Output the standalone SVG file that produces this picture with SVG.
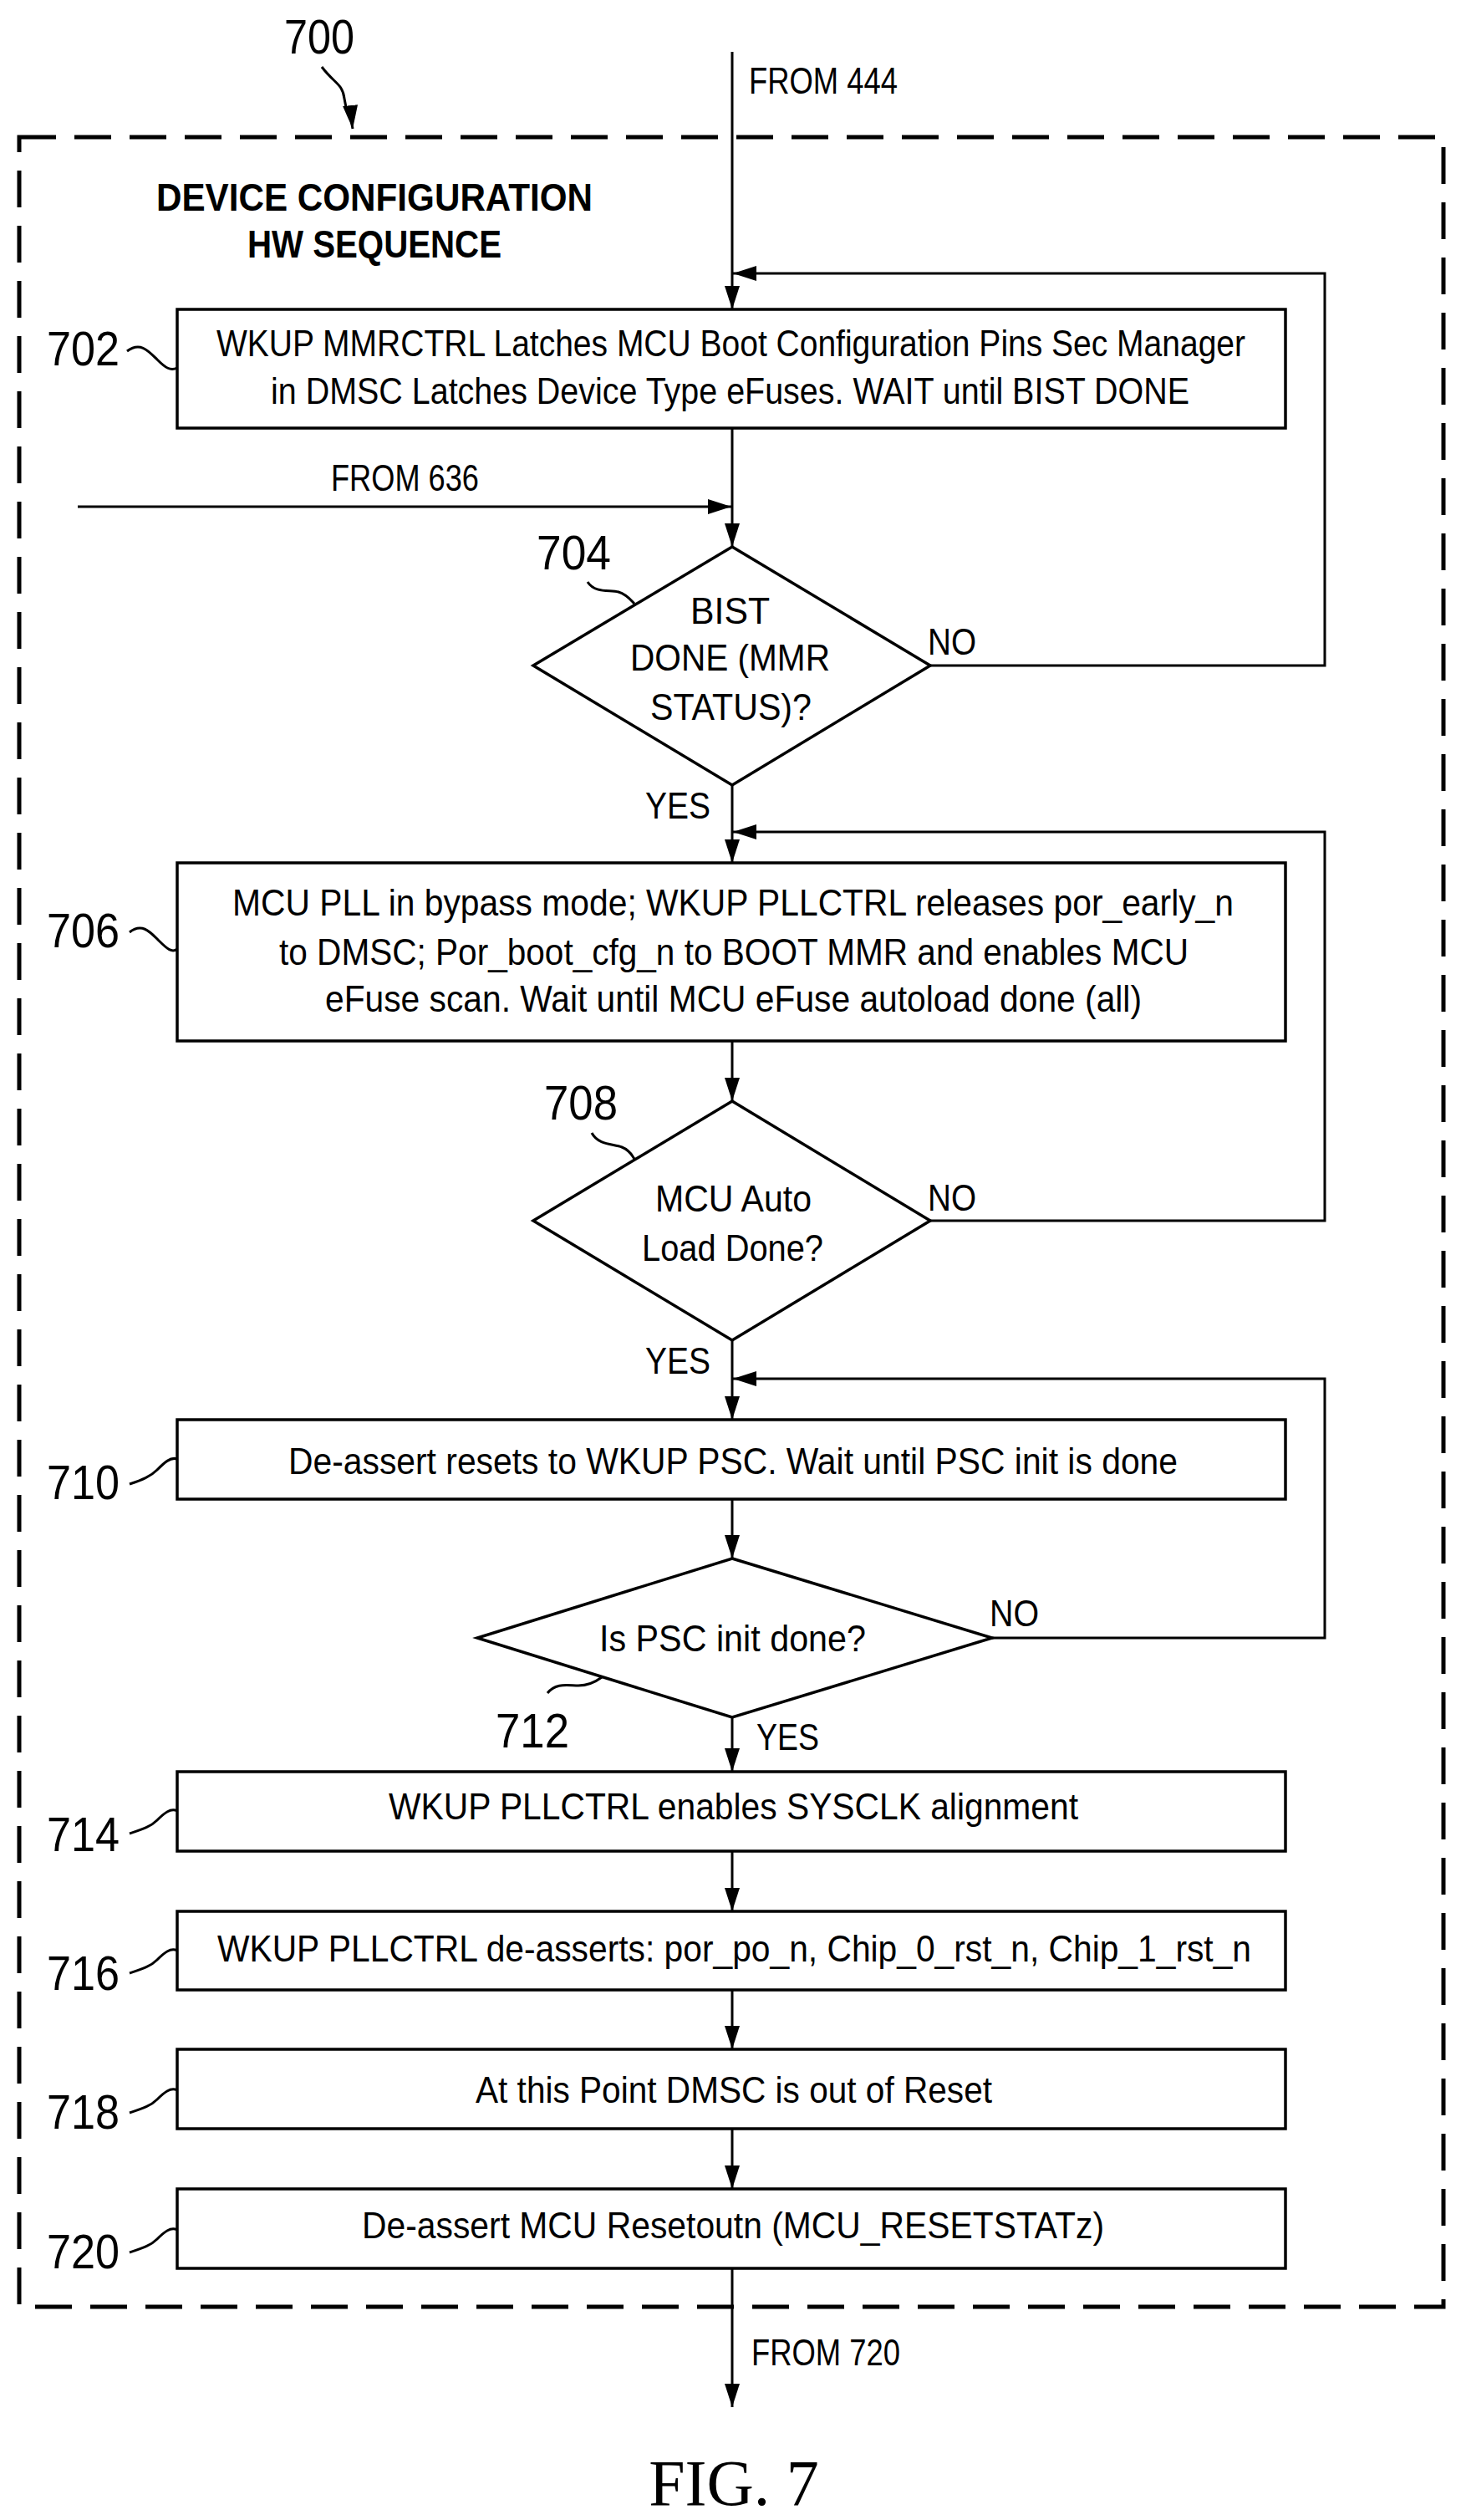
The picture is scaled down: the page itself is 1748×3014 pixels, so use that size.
<svg xmlns="http://www.w3.org/2000/svg" width="1748" height="3014" viewBox="0 0 1748 3014">
<style>
.ln{stroke:#000;stroke-width:3;fill:none}
.bx{stroke:#000;stroke-width:3.5;fill:#fff}
.t{font-family:"Liberation Sans",Arial,sans-serif;font-size:44px;fill:#000}
.c{text-anchor:middle}
.lb{font-family:"Liberation Sans",Arial,sans-serif;font-size:58px;fill:#000}
.b{font-weight:bold;font-size:46px}
</style>
<defs>
<marker id="ah" markerUnits="userSpaceOnUse" markerWidth="30" markerHeight="20" refX="28" refY="10" orient="auto">
<path d="M0,1 L28,10 L0,19 Z" fill="#000"/>
</marker>
</defs>
<rect x="23" y="164" width="1704" height="2595" fill="none" stroke="#000" stroke-width="5" stroke-dasharray="44,22"/>
<g id="title">
<text class="lb" x="340" y="64" textLength="84" lengthAdjust="spacingAndGlyphs">700</text>
<text class="t b" x="187" y="252" textLength="522" lengthAdjust="spacingAndGlyphs">DEVICE CONFIGURATION</text>
<text class="t b" x="296" y="308" textLength="304" lengthAdjust="spacingAndGlyphs">HW SEQUENCE</text>
<path class="ln" d="M385,80 C400,100 410,100 412,118 S420,135 422,154" marker-end="url(#ah)"/>
</g>
<g id="connectors">
<path class="ln" d="M876,62 V370" marker-end="url(#ah)"/>
<text class="t" x="896" y="112" textLength="178" lengthAdjust="spacingAndGlyphs">FROM 444</text>
<path class="ln" d="M1113,796 H1585 V327 H877" marker-end="url(#ah)"/>
<path class="ln" d="M876,512 V654" marker-end="url(#ah)"/>
<path class="ln" d="M93,606 H875" marker-end="url(#ah)"/>
<text class="t" x="396" y="587" textLength="177" lengthAdjust="spacingAndGlyphs">FROM 636</text>
<path class="ln" d="M876,939 V1032" marker-end="url(#ah)"/>
<path class="ln" d="M1113,1460 H1585 V995 H877" marker-end="url(#ah)"/>
<path class="ln" d="M876,1245 V1317" marker-end="url(#ah)"/>
<path class="ln" d="M876,1603 V1698" marker-end="url(#ah)"/>
<path class="ln" d="M1187,1959 H1585 V1649 H877" marker-end="url(#ah)"/>
<path class="ln" d="M876,1793 V1864" marker-end="url(#ah)"/>
<path class="ln" d="M876,2054 V2119" marker-end="url(#ah)"/>
<path class="ln" d="M876,2214 V2286" marker-end="url(#ah)"/>
<path class="ln" d="M876,2380 V2451" marker-end="url(#ah)"/>
<path class="ln" d="M876,2546 V2618" marker-end="url(#ah)"/>
<path class="ln" d="M876,2713 V2879" marker-end="url(#ah)"/>
<text class="t" x="899" y="2829" textLength="178" lengthAdjust="spacingAndGlyphs">FROM 720</text>
<text class="t" x="1110" y="783" textLength="58" lengthAdjust="spacingAndGlyphs">NO</text>
<text class="t" x="772" y="979" textLength="78" lengthAdjust="spacingAndGlyphs">YES</text>
<text class="t" x="1110" y="1448" textLength="58" lengthAdjust="spacingAndGlyphs">NO</text>
<text class="t" x="772" y="1643" textLength="78" lengthAdjust="spacingAndGlyphs">YES</text>
<text class="t" x="1184" y="1945" textLength="59" lengthAdjust="spacingAndGlyphs">NO</text>
<text class="t" x="905" y="2093" textLength="75" lengthAdjust="spacingAndGlyphs">YES</text>
</g>
<g id="n702">
<rect class="bx" x="212" y="370" width="1326" height="142"/>
<text class="t" x="259" y="426" textLength="1231" lengthAdjust="spacingAndGlyphs">WKUP MMRCTRL Latches MCU Boot Configuration Pins Sec Manager</text>
<text class="t" x="324" y="483" textLength="1099" lengthAdjust="spacingAndGlyphs">in DMSC Latches Device Type eFuses. WAIT until BIST DONE</text>
<text class="lb" x="56" y="437" textLength="87" lengthAdjust="spacingAndGlyphs">702</text>
<path class="ln" d="M152,420 C168,408 178,420 188,430 S204,444 212,440"/>
</g>
<g id="n704">
<path class="bx" d="M876,654 L1113,796 L876,939 L638,796 Z"/>
<text class="t" x="826" y="746" textLength="95" lengthAdjust="spacingAndGlyphs">BIST</text>
<text class="t" x="754" y="802" textLength="239" lengthAdjust="spacingAndGlyphs">DONE (MMR</text>
<text class="t" x="778" y="861" textLength="193" lengthAdjust="spacingAndGlyphs">STATUS)?</text>
<text class="lb" x="642" y="681" textLength="89" lengthAdjust="spacingAndGlyphs">704</text>
<path class="ln" d="M703,696 C712,710 730,705 740,708 S755,718 759,722"/>
</g>
<g id="n706">
<rect class="bx" x="212" y="1032" width="1326" height="213"/>
<text class="t" x="278" y="1095" textLength="1198" lengthAdjust="spacingAndGlyphs">MCU PLL in bypass mode; WKUP PLLCTRL releases por_early_n</text>
<text class="t" x="334" y="1154" textLength="1088" lengthAdjust="spacingAndGlyphs">to DMSC; Por_boot_cfg_n to BOOT MMR and enables MCU</text>
<text class="t" x="389" y="1210" textLength="977" lengthAdjust="spacingAndGlyphs">eFuse scan. Wait until MCU eFuse autoload done (all)</text>
<text class="lb" x="56" y="1133" textLength="87" lengthAdjust="spacingAndGlyphs">706</text>
<path class="ln" d="M155,1115 C170,1103 180,1115 190,1125 S206,1140 212,1135"/>
</g>
<g id="n708">
<path class="bx" d="M876,1317 L1113,1460 L876,1603 L638,1460 Z"/>
<text class="t" x="784" y="1449" textLength="187" lengthAdjust="spacingAndGlyphs">MCU Auto</text>
<text class="t" x="768" y="1508" textLength="217" lengthAdjust="spacingAndGlyphs">Load Done?</text>
<text class="lb" x="651" y="1339" textLength="88" lengthAdjust="spacingAndGlyphs">708</text>
<path class="ln" d="M708,1355 C716,1370 734,1368 744,1372 S756,1382 759,1386"/>
</g>
<g id="n710">
<rect class="bx" x="212" y="1698" width="1326" height="95"/>
<text class="t" x="345" y="1763" textLength="1064" lengthAdjust="spacingAndGlyphs">De-assert resets to WKUP PSC. Wait until PSC init is done</text>
<text class="lb" x="56" y="1793" textLength="87" lengthAdjust="spacingAndGlyphs">710</text>
<path class="ln" d="M155,1775 C170,1770 180,1766 188,1758 S204,1742 212,1745"/>
</g>
<g id="n712">
<path class="bx" d="M876,1864 L1187,1959 L876,2054 L571,1959 Z"/>
<text class="t" x="717" y="1975" textLength="319" lengthAdjust="spacingAndGlyphs">Is PSC init done?</text>
<text class="lb" x="593" y="2090" textLength="88" lengthAdjust="spacingAndGlyphs">712</text>
<path class="ln" d="M655,2025 C665,2012 680,2016 692,2016 S712,2012 720,2006"/>
</g>
<g id="n714">
<rect class="bx" x="212" y="2119" width="1326" height="95"/>
<text class="t" x="465" y="2176" textLength="825" lengthAdjust="spacingAndGlyphs">WKUP PLLCTRL enables SYSCLK alignment</text>
<text class="lb" x="56" y="2214" textLength="87" lengthAdjust="spacingAndGlyphs">714</text>
<path class="ln" d="M155,2193 C170,2188 180,2185 188,2177 S204,2162 212,2166"/>
</g>
<g id="n716">
<rect class="bx" x="212" y="2286" width="1326" height="94"/>
<text class="t" x="260" y="2346" textLength="1237" lengthAdjust="spacingAndGlyphs">WKUP PLLCTRL de-asserts: por_po_n, Chip_0_rst_n, Chip_1_rst_n</text>
<text class="lb" x="56" y="2380" textLength="87" lengthAdjust="spacingAndGlyphs">716</text>
<path class="ln" d="M155,2360 C170,2355 180,2352 188,2344 S204,2329 212,2333"/>
</g>
<g id="n718">
<rect class="bx" x="212" y="2451" width="1326" height="95"/>
<text class="t" x="569" y="2515" textLength="618" lengthAdjust="spacingAndGlyphs">At this Point DMSC is out of Reset</text>
<text class="lb" x="56" y="2546" textLength="87" lengthAdjust="spacingAndGlyphs">718</text>
<path class="ln" d="M155,2527 C170,2522 180,2519 188,2511 S204,2496 212,2500"/>
</g>
<g id="n720">
<rect class="bx" x="212" y="2618" width="1326" height="95"/>
<text class="t" x="433" y="2677" textLength="888" lengthAdjust="spacingAndGlyphs">De-assert MCU Resetoutn (MCU_RESETSTATz)</text>
<text class="lb" x="56" y="2713" textLength="87" lengthAdjust="spacingAndGlyphs">720</text>
<path class="ln" d="M155,2694 C170,2689 180,2686 188,2678 S204,2663 212,2667"/>
</g>
<text x="878" y="2996" text-anchor="middle" font-family="Liberation Serif,Times New Roman,serif" font-size="78">FIG. 7</text>
</svg>
